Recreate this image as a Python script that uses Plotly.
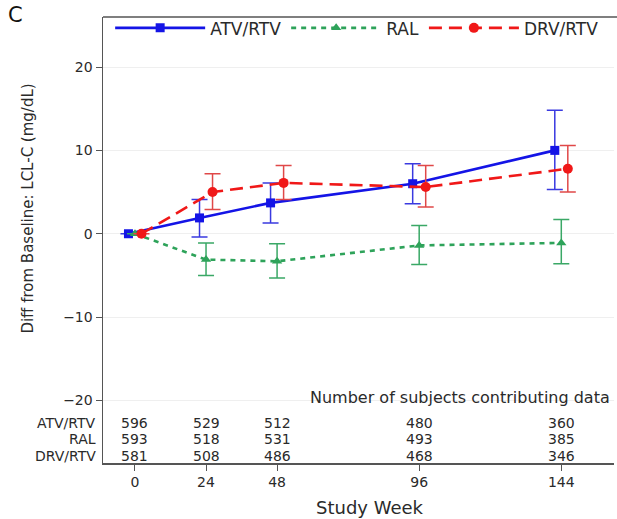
import plotly.graph_objects as go

# Study weeks and mean change from baseline in LDL-C (mg/dL) with 95% CI
weeks = [0, 24, 48, 96, 144]
tick_labels = ["0", "24", "48", "96", "144"]

atv_mean = [0.0, 1.9, 3.7, 6.0, 10.0]
atv_upper = [None, 4.1, 6.1, 8.4, 14.8]
atv_lower = [None, -0.4, 1.3, 3.6, 5.3]

ral_mean = [0.0, -3.1, -3.3, -1.4, -1.1]
ral_upper = [None, -1.1, -1.2, 1.0, 1.7]
ral_lower = [None, -5.0, -5.3, -3.7, -3.6]

drv_mean = [0.0, 5.0, 6.1, 5.6, 7.8]
drv_upper = [None, 7.2, 8.2, 8.2, 10.6]
drv_lower = [None, 2.9, 4.1, 3.2, 5.0]

# Number of subjects contributing data
arm_names = ["ATV/RTV", "RAL", "DRV/RTV"]
n_atv = [596, 529, 512, 480, 360]
n_ral = [593, 518, 531, 493, 385]
n_drv = [581, 508, 486, 468, 346]

FONT = "DejaVu Sans"
TXT = "#2a2a2a"
AXIS = "#555555"


def err(mean, upper, lower):
    plus = [None if u is None else u - m for u, m in zip(upper, mean)]
    minus = [None if l is None else m - l for l, m in zip(lower, mean)]
    return plus, minus


# name, data, horizontal offset (weeks), colours, dash, marker
series = [
    ("ATV/RTV", atv_mean, atv_upper, atv_lower, -2.2, "#1414e6", "#3a3ae0",
     "solid", "square", 9),
    ("RAL", ral_mean, ral_upper, ral_lower, 0.0, "#2ea35a", "#3aa866",
     "5px,5px", "triangle-up", 9),
    ("DRV/RTV", drv_mean, drv_upper, drv_lower, 2.2, "#f01818", "#e04848",
     "13px,7px", "circle", 10),
]

fig = go.Figure()
for name, mean, up, lo, off, col, ecol, dash, sym, size in series:
    plus, minus = err(mean, up, lo)
    fig.add_trace(go.Scatter(
        x=[w + off for w in weeks], y=mean, name=name, mode="lines+markers",
        line=dict(color=col, width=2.6, dash=dash),
        marker=dict(symbol=sym, size=size, color=col),
        error_y=dict(type="data", symmetric=False, array=plus, arrayminus=minus,
                     color=ecol, thickness=1.5, width=8),
    ))

# Subject-count table inside the lower part of the panel
row_y = [-22.7, -24.65, -26.6]
counts = [n_atv, n_ral, n_drv]
table_font = dict(family=FONT, size=14, color=TXT)
annotations = []
for ry, arm, row in zip(row_y, arm_names, counts):
    annotations.append(dict(x=-0.012, xref="paper", y=ry, yref="y", text=arm,
                            showarrow=False, xanchor="right", yanchor="middle",
                            borderpad=0, font=table_font))
    for w, n in zip(weeks, row):
        annotations.append(dict(x=w, y=ry, xref="x", yref="y", text=str(n),
                                showarrow=False, yanchor="middle", borderpad=0,
                                font=table_font))
annotations.append(dict(x=0.995, xref="paper", y=-19.6, yref="y",
                        text="Number of subjects contributing data",
                        showarrow=False, xanchor="right", borderpad=0,
                        font=dict(family=FONT, size=16, color=TXT)))
# Panel letter
annotations.append(dict(x=-0.172, xref="paper", y=1.005, yref="paper", text="C",
                        showarrow=False, xanchor="center", yanchor="middle",
                        font=dict(family=FONT, size=21, color="#111")))
# Axis titles
annotations.append(dict(x=-0.147, xref="paper", y=3, yref="y",
                        text="Diff from Baseline: LCL-C (mg/dL)", textangle=-90,
                        showarrow=False, xanchor="center", yanchor="middle",
                        font=dict(family=FONT, size=15, color=TXT)))
annotations.append(dict(x=0.522, xref="paper", y=-0.1, yref="paper",
                        text="Study Week", showarrow=False, xanchor="center",
                        yanchor="middle",
                        font=dict(family=FONT, size=18, color=TXT)))

fig.update_layout(
    width=617, height=519,
    margin=dict(l=103, r=3, t=17, b=56),
    paper_bgcolor="white", plot_bgcolor="white",
    showlegend=True,
    legend=dict(orientation="h", x=0.014, y=1.015, xanchor="left",
                yanchor="top", font=dict(family=FONT, size=17, color=TXT),
                itemwidth=90, bgcolor="rgba(0,0,0,0)"),
    annotations=annotations,
    # open frame: top edge of the panel runs to the right edge of the figure
    shapes=[dict(type="line", xref="paper", yref="paper", x0=0, x1=1.01,
                 y0=1, y1=1, line=dict(color=AXIS, width=1.5))],
    font=dict(family=FONT, size=14, color=TXT),
    dragmode=False,
)
fig.update_xaxes(range=[-10.8, 161.8], tickvals=weeks, ticktext=tick_labels,
                 showgrid=False, zeroline=False, showline=True, mirror=False,
                 linecolor=AXIS, linewidth=1.5, ticks="outside", ticklen=6,
                 tickcolor=AXIS, tickfont=dict(family=FONT, size=14, color=TXT))
fig.update_yaxes(range=[-27.5, 26.0], tickvals=[-20, -10, 0, 10, 20],
                 showgrid=True, gridcolor="#efefef", gridwidth=1, zeroline=False,
                 showline=True, mirror=False, linecolor=AXIS, linewidth=1.5,
                 ticks="outside", ticklen=6, tickcolor=AXIS,
                 tickfont=dict(family=FONT, size=14, color=TXT))

fig.write_html("out.html", config={"staticPlot": True})
